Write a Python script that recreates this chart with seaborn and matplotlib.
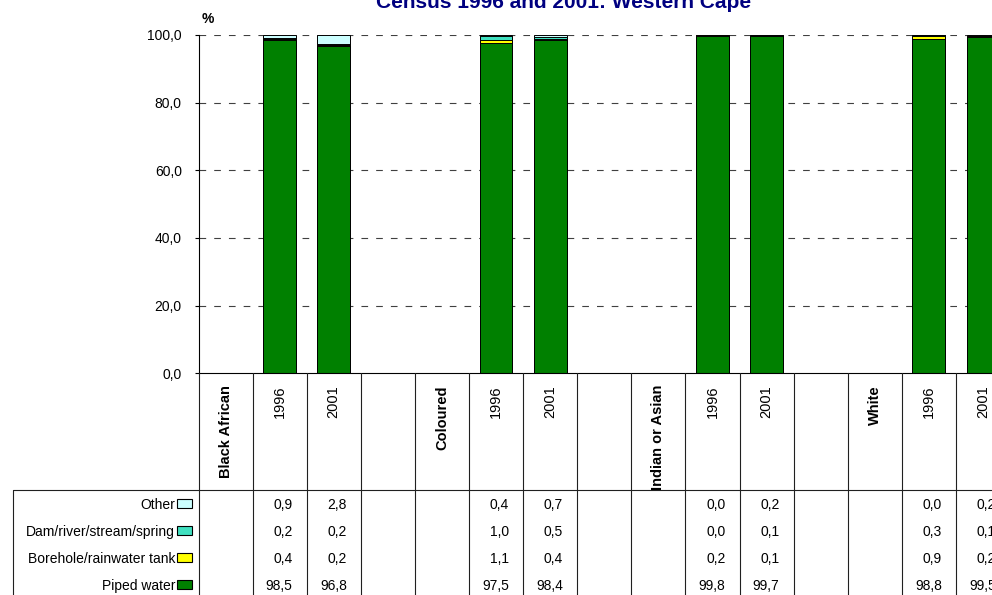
import numpy as np
import pandas as pd
import matplotlib
matplotlib.use("Agg")
import matplotlib.pyplot as plt
import seaborn as sns
from matplotlib.patches import Rectangle

# ---------------- data ----------------
groups = ["Black African", "Coloured", "Indian or Asian", "White"]
years = ["1996", "2001"]
piped = [98.5, 96.8, 97.5, 98.4, 99.8, 99.7, 98.8, 99.5]
borehole = [0.4, 0.2, 1.1, 0.4, 0.2, 0.1, 0.9, 0.2]
dam = [0.2, 0.2, 1.0, 0.5, 0.0, 0.1, 0.3, 0.1]
other = [0.9, 2.8, 0.4, 0.7, 0.0, 0.2, 0.0, 0.2]
series_names = ["Piped water", "Borehole/rainwater tank", "Dam/river/stream/spring", "Other"]
series_colors = ["#008000", "#FFFF00", "#40E0C0", "#CCFFFF"]
title = "Census 1996 and 2001: Western Cape"
yticks = [0, 20, 40, 60, 80, 100]

# ---------------- style ----------------
sns.set_theme(style="white")
plt.rcParams["font.family"] = ["Liberation Sans", "DejaVu Sans"]
plt.rcParams["lines.scale_dashes"] = False

W, H = 992, 595
X0, CW = 198.5, 54.1
Y0, Y100 = 373.3, 35.0
HDR = 490.0
ROW_Y = [503.5, 530.5, 557.5, 584.5]
NCOL = 16

# long-form frame with cumulative tops
vals = [piped, borehole, dam, other]
rows = []
for gi, g in enumerate(groups):
    for yi, yr in enumerate(years):
        i = gi * 2 + yi
        cum = 0.0
        for s, v in zip(series_names, vals):
            cum += v[i]
            rows.append(dict(group=g, year=yr, pos=4 * gi + 1 + yi, series=s, value=v[i], cum=cum))
df = pd.DataFrame(rows)

fig = plt.figure(figsize=(W / 100, H / 100), dpi=100)
ax = fig.add_axes([X0 / W, (H - Y0) / H, NCOL * CW / W, (Y0 - Y100) / H])

for s, c in reversed(list(zip(series_names, series_colors))):
    sub = df[df.series == s]
    sns.barplot(data=sub, x="pos", y="cum", native_scale=True, width=0.605,
                color=c, saturation=1, edgecolor="black", linewidth=0.7,
                errorbar=None, ax=ax, zorder=2)

ax.set_xlim(-0.5, NCOL - 0.5)
ax.set_ylim(0, 100)
ax.set_xticks([])
ax.set_xlabel("")
ax.set_ylabel("")
for v in yticks[1:]:
    ax.axhline(v, color="#404040", lw=0.8, dashes=(4.8, 5.8), zorder=1)
for side in ["top", "right"]:
    ax.spines[side].set_visible(False)
for side in ["left", "bottom"]:
    ax.spines[side].set_color("black")
    ax.spines[side].set_linewidth(0.8)
ax.set_yticks(yticks)
ax.set_yticklabels([f"{v:.1f}".replace(".", ",") for v in yticks])
ax.tick_params(axis="y", left=True, direction="out", length=3, width=0.8,
               color="black", pad=9, labelsize=10, labelcolor="black")

fig.text(564 / W, 1 - 8.5 / H, title, ha="center", va="baseline",
         fontsize=15, fontweight="bold", color="#000080")
fig.text(202 / W, 1 - 23 / H, "%", ha="left", va="baseline",
         fontsize=10, fontweight="bold", color="black")

# ---------------- data table ----------------
tab = fig.add_axes([0, 0, 1, 1])
tab.set_xlim(0, W)
tab.set_ylim(H, 0)
tab.axis("off")
tab.patch.set_alpha(0)

lc = "#202020"
for k in range(NCOL + 1):
    x = X0 + k * CW
    tab.plot([x, x], [Y0, H], color=lc, lw=0.8)
tab.plot([13, W], [HDR, HDR], color=lc, lw=0.8)
tab.plot([13, 13], [HDR, H], color=lc, lw=0.8)

clip = Rectangle((X0, Y0), NCOL * CW, HDR - Y0, transform=tab.transData)
for gi, g in enumerate(groups):
    x = X0 + (4 * gi + 0.5) * CW
    t = tab.text(x, 385.0, g, rotation=90, ha="center", va="top",
                 fontsize=10.5, fontweight="bold", color="black")
    t.set_clip_path(clip)
    for yi, yr in enumerate(years):
        x = X0 + (4 * gi + 1 + yi + 0.5) * CW
        t = tab.text(x, 385.0, yr, rotation=90, ha="center", va="top",
                     fontsize=10.5, color="black")
        t.set_clip_path(clip)

table_rows = list(zip(series_names, series_colors, vals))[::-1]
for r, (s, c, v) in enumerate(table_rows):
    y = ROW_Y[r]
    tab.text(175, y, s, ha="right", va="center_baseline", fontsize=10, color="black")
    tab.add_patch(Rectangle((177, y - 4.5), 15, 9, facecolor=c, edgecolor="black", lw=0.8))
    for gi in range(len(groups)):
        for yi in range(len(years)):
            p = 4 * gi + 1 + yi
            x = X0 + (p + 1) * CW - 14
            tab.text(x, y, f"{v[gi * 2 + yi]:.1f}".replace(".", ","), ha="right",
                     va="center_baseline", fontsize=10, color="black")

fig.savefig("out.png", dpi=100)
